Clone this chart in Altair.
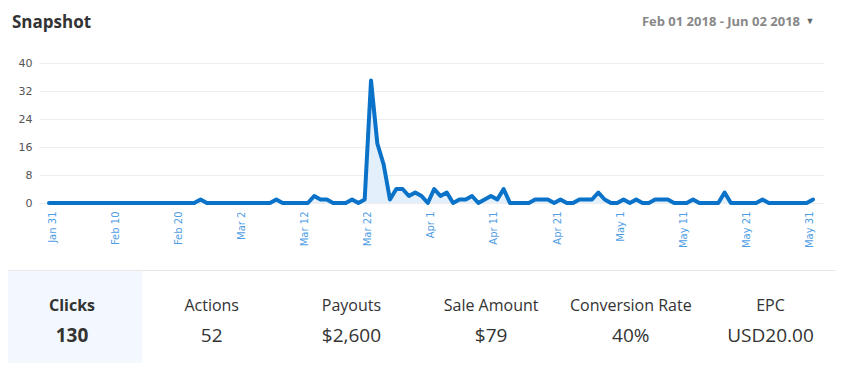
import altair as alt
import pandas as pd

# ---------------- data ----------------
START_DATE = "2018-01-31"
clicks = [
    0, 0, 0, 0, 0, 0, 0, 0, 0, 0,
    0, 0, 0, 0, 0, 0, 0, 0, 0, 0,
    0, 0, 0, 0, 1, 0, 0, 0, 0, 0,
    0, 0, 0, 0, 0, 0, 1, 0, 0, 0,
    0, 0, 2, 1, 1, 0, 0, 0, 1, 0,
    1, 35, 17, 11, 1, 4, 4, 2, 3, 2,
    0, 4, 2, 3, 0, 1, 1, 2, 0, 1,
    2, 1, 4, 0, 0, 0, 0, 1, 1, 1,
    0, 1, 0, 0, 1, 1, 1, 3, 1, 0,
    0, 1, 0, 1, 0, 0, 1, 1, 1, 0,
    0, 0, 1, 0, 0, 0, 0, 3, 0, 0,
    0, 0, 0, 1, 0, 0, 0, 0, 0, 0,
    0, 1,
]
tick_dates = ["2018-01-31", "2018-02-10", "2018-02-20", "2018-03-02", "2018-03-12",
              "2018-03-22", "2018-04-01", "2018-04-11", "2018-04-21", "2018-05-01",
              "2018-05-11", "2018-05-21", "2018-05-31"]
y_ticks = [0, 8, 16, 24, 32, 40]
title_text = "Snapshot"
date_range_text = "Feb 01 2018 - Jun 02 2018"
stat_labels = ["Clicks", "Actions", "Payouts", "Sale Amount", "Conversion Rate", "EPC"]
stat_values = ["130", "52", "$2,600", "$79", "40%", "USD20.00"]

# ---------------- tables ----------------
dates = pd.date_range(START_DATE, periods=len(clicks), freq="D")
df = pd.DataFrame({"date": dates, "clicks": clicks})

CELL_W = 139.7
stats = pd.DataFrame({
    "label": stat_labels,
    "value": stat_values,
    "cx": [33 + CELL_W * i for i in range(len(stat_labels))],
    "first": [i == 0 for i in range(len(stat_labels))],
})
one = pd.DataFrame({"k": [0]})


def to_dt(s):
    t = pd.Timestamp(s)
    return alt.DateTime(year=t.year, month=t.month, date=t.day)


LINE_COLOR = "#0a73c9"
AREA_COLOR = "#e3effa"
TEXT_COLOR = "#333333"
FONT = "Open Sans"

x_enc = alt.X(
    "date:T",
    scale=alt.Scale(padding=10, nice=False),
    axis=alt.Axis(
        values=[to_dt(s) for s in tick_dates], format="%b %-d", labelAngle=-90,
        ticks=False, domain=False, grid=False, labelPadding=8, labelOffset=3,
        labelColor="#4f9de3", labelFont="DejaVu Sans", labelFontSize=10,
        labelOverlap=False, labelFlush=False, title=None,
    ),
)
y_enc = alt.Y(
    "clicks:Q",
    scale=alt.Scale(domain=[0, 40], nice=False),
    axis=alt.Axis(
        values=y_ticks, ticks=False, domain=False, gridColor="#eeeeee",
        labelPadding=7, labelColor="#555555", labelFont="DejaVu Sans",
        labelFontSize=11, title=None,
    ),
)

base = alt.Chart(df)
area = base.mark_area(color=AREA_COLOR).encode(x=x_enc, y=y_enc)
line = base.mark_line(color=LINE_COLOR, strokeWidth=4, strokeCap="round",
                      strokeJoin="round").encode(x=x_enc, y=y_enc)

bg = alt.Chart(one).mark_rect(color="#f2f8fd").encode(
    x=alt.value(-36), x2=alt.value(103), y=alt.value(208), y2=alt.value(306))
sep = alt.Chart(one).mark_rule(color="#e8e8e8", strokeWidth=1).encode(
    x=alt.value(-40), x2=alt.value(800), y=alt.value(207.5))

title = alt.Chart(one).mark_text(
    text=title_text, align="left", baseline="middle", font=FONT,
    fontSize=17, fontWeight="bold", color=TEXT_COLOR,
).encode(x=alt.value(-27), y=alt.value(-40))
date_range = alt.Chart(one).mark_text(
    text=date_range_text, align="right", baseline="middle", font=FONT,
    fontSize=13, fontWeight="bold", color="#888888",
).encode(x=alt.value(761), y=alt.value(-41))
caret = alt.Chart(one).mark_text(
    text="▼", align="center", baseline="middle", fontSize=9, color="#666666",
).encode(x=alt.value(771), y=alt.value(-42))

sx = alt.X("cx:Q", scale=None, axis=None)
lab_bold = alt.Chart(stats).transform_filter("datum.first").mark_text(
    align="center", baseline="middle", font=FONT, fontSize=16, fontWeight="bold",
    color=TEXT_COLOR).encode(x=sx, y=alt.value(243), text="label:N")
val_bold = alt.Chart(stats).transform_filter("datum.first").mark_text(
    align="center", baseline="middle", font=FONT, fontSize=19, fontWeight="bold",
    color=TEXT_COLOR).encode(x=sx, y=alt.value(273), text="value:N")
lab = alt.Chart(stats).transform_filter("!datum.first").mark_text(
    align="center", baseline="middle", font=FONT, fontSize=16,
    color=TEXT_COLOR).encode(x=sx, y=alt.value(243), text="label:N")
val = alt.Chart(stats).transform_filter("!datum.first").mark_text(
    align="center", baseline="middle", font=FONT, fontSize=19,
    color=TEXT_COLOR).encode(x=sx, y=alt.value(273), text="value:N")

chart = alt.layer(
    bg, sep, area, line, title, date_range, caret, lab_bold, val_bold, lab, val
).properties(
    width=784, height=140, autosize="none", background="white",
    padding={"left": 31, "top": 55, "right": 13, "bottom": 160},
).configure_view(stroke=None)

chart.save("out.html", embed_options={"renderer": "svg", "actions": False})
